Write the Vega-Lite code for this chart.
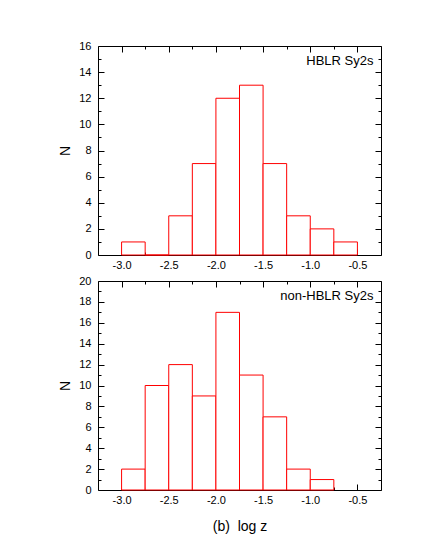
{
  "$schema": "https://vega.github.io/schema/vega-lite/v6.json",
  "autosize": {"type": "pad"},
  "padding": {"left": 58, "top": 40, "right": 5, "bottom": 5},
  "background": "white",
  "config": {
    "font": "Liberation Sans",
    "view": {"stroke": null},
    "axis": {
      "grid": false,
      "domainColor": "black",
      "domainWidth": 1,
      "tickColor": "black",
      "tickWidth": 1,
      "labelColor": "black",
      "labelFont": "Liberation Sans",
      "labelFontSize": 11,
      "titleFont": "Liberation Sans",
      "titleFontSize": 14,
      "titleFontWeight": "normal",
      "titleColor": "black",
      "labelOverlap": false,
      "labelFlush": false,
      "zindex": 1
    }
  },
  "datasets": {
    "hblr": [
      {"start": -3.0, "end": -2.75, "n": 1},
      {"start": -2.75, "end": -2.5, "n": 0},
      {"start": -2.5, "end": -2.25, "n": 3},
      {"start": -2.25, "end": -2.0, "n": 7},
      {"start": -2.0, "end": -1.75, "n": 12},
      {"start": -1.75, "end": -1.5, "n": 13},
      {"start": -1.5, "end": -1.25, "n": 7},
      {"start": -1.25, "end": -1.0, "n": 3},
      {"start": -1.0, "end": -0.75, "n": 2},
      {"start": -0.75, "end": -0.5, "n": 1}
    ],
    "nonhblr": [
      {"start": -3.0, "end": -2.75, "n": 2},
      {"start": -2.75, "end": -2.5, "n": 10},
      {"start": -2.5, "end": -2.25, "n": 12},
      {"start": -2.25, "end": -2.0, "n": 9},
      {"start": -2.0, "end": -1.75, "n": 17},
      {"start": -1.75, "end": -1.5, "n": 11},
      {"start": -1.5, "end": -1.25, "n": 7},
      {"start": -1.25, "end": -1.0, "n": 2},
      {"start": -1.0, "end": -0.75, "n": 1}
    ]
  },
  "spacing": 26,
  "bounds": "flush",
  "vconcat": [
    {
      "width": 283,
      "height": 209,
      "data": {"name": "hblr"},
      "layer": [
        {
          "mark": {"type": "bar", "fill": "white", "stroke": "#ff0000", "strokeWidth": 1},
          "encoding": {
            "x": {"field": "start", "type": "quantitative",
              "scale": {"domain": [-3.25, -0.25], "nice": false, "zero": false},
              "axis": {"orient": "bottom", "title": null,
                "values": [-3, -2.5, -2, -1.5, -1, -0.5],
                "tickSize": -6, "labelPadding": 10,
                "labelExpr": "replace(format(datum.value, '.1f'), '\u2212', '-')"}},
            "x2": {"field": "end"},
            "y": {"field": "n", "type": "quantitative",
              "scale": {"domain": [0, 16], "nice": false},
              "axis": {"orient": "left", "title": "N", "titlePadding": 6,
                "values": [0, 2, 4, 6, 8, 10, 12, 14, 16],
                "tickSize": -6, "labelPadding": 13, "format": "d"}},
            "y2": {"datum": 0}
          }
        },
        {
          "mark": {"type": "bar", "opacity": 0},
          "encoding": {
            "x": {"field": "start", "type": "quantitative",
              "axis": {"orient": "top", "title": null, "labels": false,
                "values": [-3, -2.5, -2, -1.5, -1, -0.5], "tickSize": -6}},
            "x2": {"field": "end"},
            "y": {"field": "n", "type": "quantitative",
              "axis": {"orient": "right", "title": null, "labels": false,
                "values": [0, 2, 4, 6, 8, 10, 12, 14, 16], "tickSize": -6}},
            "y2": {"datum": 0}
          }
        },
        {
          "mark": {"type": "bar", "opacity": 0},
          "encoding": {
            "x": {"field": "start", "type": "quantitative",
              "axis": {"orient": "bottom", "title": null, "labels": false, "domain": false,
                "values": [-2.75, -2.25, -1.75, -1.25, -0.75], "tickSize": -3}},
            "x2": {"field": "end"},
            "y": {"field": "n", "type": "quantitative",
              "axis": {"orient": "left", "title": null, "labels": false, "domain": false,
                "values": [1, 3, 5, 7, 9, 11, 13, 15], "tickSize": -3}},
            "y2": {"datum": 0}
          }
        },
        {
          "mark": {"type": "bar", "opacity": 0},
          "encoding": {
            "x": {"field": "start", "type": "quantitative",
              "axis": {"orient": "top", "title": null, "labels": false, "domain": false,
                "values": [-2.75, -2.25, -1.75, -1.25, -0.75], "tickSize": -3}},
            "x2": {"field": "end"},
            "y": {"field": "n", "type": "quantitative",
              "axis": {"orient": "right", "title": null, "labels": false, "domain": false,
                "values": [1, 3, 5, 7, 9, 11, 13, 15], "tickSize": -3}},
            "y2": {"datum": 0}
          }
        },
        {
          "data": {"values": [{"label": "HBLR Sy2s"}]},
          "mark": {"type": "text", "align": "right", "baseline": "middle", "fontSize": 13, "font": "Liberation Sans", "color": "black"},
          "encoding": {
            "x": {"datum": -0.33, "type": "quantitative", "axis": null},
            "y": {"datum": 14.85, "type": "quantitative", "axis": null},
            "text": {"field": "label"}
          }
        }
      ],
      "resolve": {"axis": {"x": "independent", "y": "independent"}}
    },
    {
      "width": 283,
      "height": 209,
      "data": {"name": "nonhblr"},
      "layer": [
        {
          "mark": {"type": "bar", "fill": "white", "stroke": "#ff0000", "strokeWidth": 1},
          "encoding": {
            "x": {"field": "start", "type": "quantitative",
              "scale": {"domain": [-3.25, -0.25], "nice": false, "zero": false},
              "axis": {"orient": "bottom", "title": "(b)\u00a0 log z", "titlePadding": 14,
                "values": [-3, -2.5, -2, -1.5, -1, -0.5],
                "tickSize": -6, "labelPadding": 10,
                "labelExpr": "replace(format(datum.value, '.1f'), '\u2212', '-')"}},
            "x2": {"field": "end"},
            "y": {"field": "n", "type": "quantitative",
              "scale": {"domain": [0, 20], "nice": false},
              "axis": {"orient": "left", "title": "N", "titlePadding": 6,
                "values": [0, 2, 4, 6, 8, 10, 12, 14, 16, 18, 20],
                "tickSize": -6, "labelPadding": 13, "format": "d"}},
            "y2": {"datum": 0}
          }
        },
        {
          "mark": {"type": "bar", "opacity": 0},
          "encoding": {
            "x": {"field": "start", "type": "quantitative",
              "axis": {"orient": "top", "title": null, "labels": false,
                "values": [-3, -2.5, -2, -1.5, -1, -0.5], "tickSize": -6}},
            "x2": {"field": "end"},
            "y": {"field": "n", "type": "quantitative",
              "axis": {"orient": "right", "title": null, "labels": false,
                "values": [0, 2, 4, 6, 8, 10, 12, 14, 16, 18, 20], "tickSize": -6}},
            "y2": {"datum": 0}
          }
        },
        {
          "mark": {"type": "bar", "opacity": 0},
          "encoding": {
            "x": {"field": "start", "type": "quantitative",
              "axis": {"orient": "bottom", "title": null, "labels": false, "domain": false,
                "values": [-2.75, -2.25, -1.75, -1.25, -0.75], "tickSize": -3}},
            "x2": {"field": "end"},
            "y": {"field": "n", "type": "quantitative",
              "axis": {"orient": "left", "title": null, "labels": false, "domain": false,
                "values": [1, 3, 5, 7, 9, 11, 13, 15, 17, 19], "tickSize": -3}},
            "y2": {"datum": 0}
          }
        },
        {
          "mark": {"type": "bar", "opacity": 0},
          "encoding": {
            "x": {"field": "start", "type": "quantitative",
              "axis": {"orient": "top", "title": null, "labels": false, "domain": false,
                "values": [-2.75, -2.25, -1.75, -1.25, -0.75], "tickSize": -3}},
            "x2": {"field": "end"},
            "y": {"field": "n", "type": "quantitative",
              "axis": {"orient": "right", "title": null, "labels": false, "domain": false,
                "values": [1, 3, 5, 7, 9, 11, 13, 15, 17, 19], "tickSize": -3}},
            "y2": {"datum": 0}
          }
        },
        {
          "data": {"values": [{"label": "non-HBLR Sy2s"}]},
          "mark": {"type": "text", "align": "right", "baseline": "middle", "fontSize": 13, "font": "Liberation Sans", "color": "black"},
          "encoding": {
            "x": {"datum": -0.33, "type": "quantitative", "axis": null},
            "y": {"datum": 18.52, "type": "quantitative", "axis": null},
            "text": {"field": "label"}
          }
        }
      ],
      "resolve": {"axis": {"x": "independent", "y": "independent"}}
    }
  ]
}
